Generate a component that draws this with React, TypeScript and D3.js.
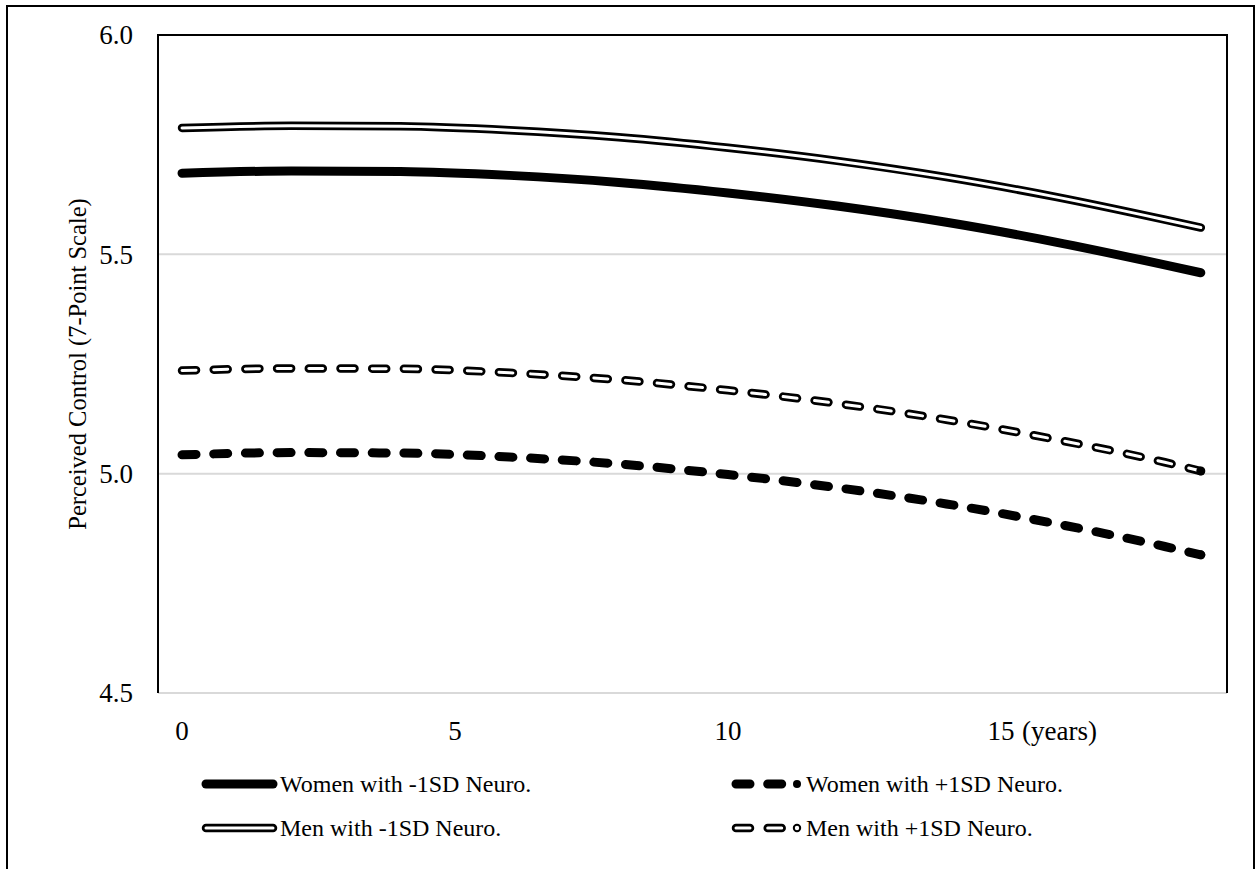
import React, { useEffect, useRef } from 'react';
import * as d3 from 'd3';

const WIDTH = 1255;
const HEIGHT = 869;

const PLOT = { left: 158, right: 1227, top: 35, bottom: 693 };

// years since baseline
const YEARS = [0, 2, 4, 6, 8, 10, 12, 14, 16, 18, 18.66];

const WOMEN_LOW = [5.685, 5.690, 5.689, 5.680, 5.664, 5.640, 5.610, 5.573, 5.528, 5.476, 5.458];
const WOMEN_HIGH = [5.043, 5.048, 5.047, 5.038, 5.022, 4.998, 4.968, 4.931, 4.886, 4.834, 4.815];
const MEN_LOW = [5.788, 5.793, 5.792, 5.783, 5.767, 5.743, 5.713, 5.676, 5.631, 5.579, 5.561];
const MEN_HIGH = [5.235, 5.240, 5.239, 5.230, 5.214, 5.190, 5.160, 5.123, 5.078, 5.026, 5.006];

const Y_TICKS = [4.5, 5.0, 5.5, 6.0];
const X_TICKS = [0, 5, 10, 15];

const SERIES = [
  { name: 'Women with -1SD Neuro.', values: WOMEN_LOW, style: 'solid' },
  { name: 'Women with +1SD Neuro.', values: WOMEN_HIGH, style: 'dash' },
  { name: 'Men with -1SD Neuro.', values: MEN_LOW, style: 'double' },
  { name: 'Men with +1SD Neuro.', values: MEN_HIGH, style: 'hollowDash' },
];

const FONT = '"Liberation Serif", "Times New Roman", serif';
const DASH = '14 17.7';

export default function App() {
  const ref = useRef<SVGSVGElement>(null);

  useEffect(() => {
    const svg = d3.select(ref.current);
    svg.selectAll('*').remove();

    const x = d3.scaleLinear().domain([-0.44, 19.14]).range([PLOT.left, PLOT.right]);
    const y = d3.scaleLinear().domain([4.5, 6.0]).range([PLOT.bottom, PLOT.top]);

    // outer chart border
    svg.append('rect')
      .attr('x', 7).attr('y', 6)
      .attr('width', 1247).attr('height', 900)
      .attr('fill', 'white')
      .attr('stroke', 'black')
      .attr('stroke-width', 2);

    // grid lines
    svg.append('g')
      .selectAll('line')
      .data(Y_TICKS)
      .enter()
      .append('line')
      .attr('x1', PLOT.left).attr('x2', PLOT.right)
      .attr('y1', d => y(d)).attr('y2', d => y(d))
      .attr('stroke', '#d9d9d9')
      .attr('stroke-width', 2);

    // plot border (left, top, right)
    svg.append('path')
      .attr('d', `M${PLOT.left},${PLOT.bottom}V${PLOT.top}H${PLOT.right}V${PLOT.bottom}`)
      .attr('fill', 'none')
      .attr('stroke', 'black')
      .attr('stroke-width', 2);

    // y tick labels
    svg.append('g')
      .selectAll('text')
      .data(Y_TICKS)
      .enter()
      .append('text')
      .attr('x', 133)
      .attr('y', d => y(d))
      .attr('dy', '0.35em')
      .attr('text-anchor', 'end')
      .attr('font-family', FONT)
      .attr('font-size', 27)
      .text(d => d.toFixed(1));

    // x tick labels
    svg.append('g')
      .selectAll('text')
      .data(X_TICKS)
      .enter()
      .append('text')
      .attr('x', d => x(d))
      .attr('y', 731)
      .attr('dy', '0.35em')
      .attr('text-anchor', 'middle')
      .attr('font-family', FONT)
      .attr('font-size', 27)
      .text(d => String(d));

    svg.append('text')
      .attr('x', 1022).attr('y', 731).attr('dy', '0.35em')
      .attr('font-family', FONT).attr('font-size', 27)
      .text('(years)');

    svg.append('text')
      .attr('transform', `translate(86, ${(PLOT.top + PLOT.bottom) / 2}) rotate(-90)`)
      .attr('text-anchor', 'middle')
      .attr('font-family', FONT)
      .attr('font-size', 24.5)
      .text('Perceived Control (7-Point Scale)');

    const line = d3.line<number>()
      .x((_, i) => x(YEARS[i]))
      .y(d => y(d))
      .curve(d3.curveMonotoneX);

    const drawStroke = (g, d, width, color, dash) => {
      g.append('path')
        .attr('d', d)
        .attr('fill', 'none')
        .attr('stroke', color)
        .attr('stroke-width', width)
        .attr('stroke-linecap', 'round')
        .attr('stroke-linejoin', 'round')
        .attr('stroke-dasharray', dash);
    };

    const drawSeries = (g, d, style) => {
      if (style === 'solid') {
        drawStroke(g, d, 9, 'black', null);
      } else if (style === 'dash') {
        drawStroke(g, d, 9, 'black', DASH);
      } else if (style === 'double') {
        drawStroke(g, d, 8.5, 'black', null);
        drawStroke(g, d, 3, 'white', null);
      } else {
        drawStroke(g, d, 8.5, 'black', DASH);
        drawStroke(g, d, 3, 'white', DASH);
      }
    };

    const lines = svg.append('g');
    SERIES.forEach(s => {
      drawSeries(lines, line(s.values), s.style);
      if (s.style === 'dash' || s.style === 'hollowDash') {
        const last = s.values.length - 1;
        lines.append('circle')
          .attr('cx', x(YEARS[last]))
          .attr('cy', y(s.values[last]))
          .attr('r', 4.5)
          .attr('fill', 'black');
      }
    });

    // legend
    const legendPos = [
      { sx: 206, ex: 273, tx: 280, ty: 784 },
      { sx: 736, ex: 797, tx: 806, ty: 784 },
      { sx: 206, ex: 273, tx: 280, ty: 828 },
      { sx: 736, ex: 797, tx: 806, ty: 828 },
    ];

    const legend = svg.append('g');
    SERIES.forEach((s, i) => {
      const p = legendPos[i];
      const dashed = s.style === 'dash' || s.style === 'hollowDash';
      const endX = dashed ? p.sx + 55 : p.ex;
      drawSeries(legend, `M${p.sx},${p.ty}H${endX}`, s.style);
      if (dashed) {
        legend.append('circle')
          .attr('cx', p.ex)
          .attr('cy', p.ty)
          .attr('r', s.style === 'dash' ? 4 : 3.2)
          .attr('fill', s.style === 'dash' ? 'black' : 'white')
          .attr('stroke', 'black')
          .attr('stroke-width', s.style === 'dash' ? 0 : 2);
      }
      legend.append('text')
        .attr('x', p.tx)
        .attr('y', p.ty)
        .attr('dy', '0.35em')
        .attr('font-family', FONT)
        .attr('font-size', 24)
        .text(s.name);
    });
  }, []);

  return (
    <svg
      ref={ref}
      width={WIDTH}
      height={HEIGHT}
      viewBox={`0 0 ${WIDTH} ${HEIGHT}`}
      style={{ position: 'absolute', left: 0, top: 0, background: 'white' }}
    />
  );
}
